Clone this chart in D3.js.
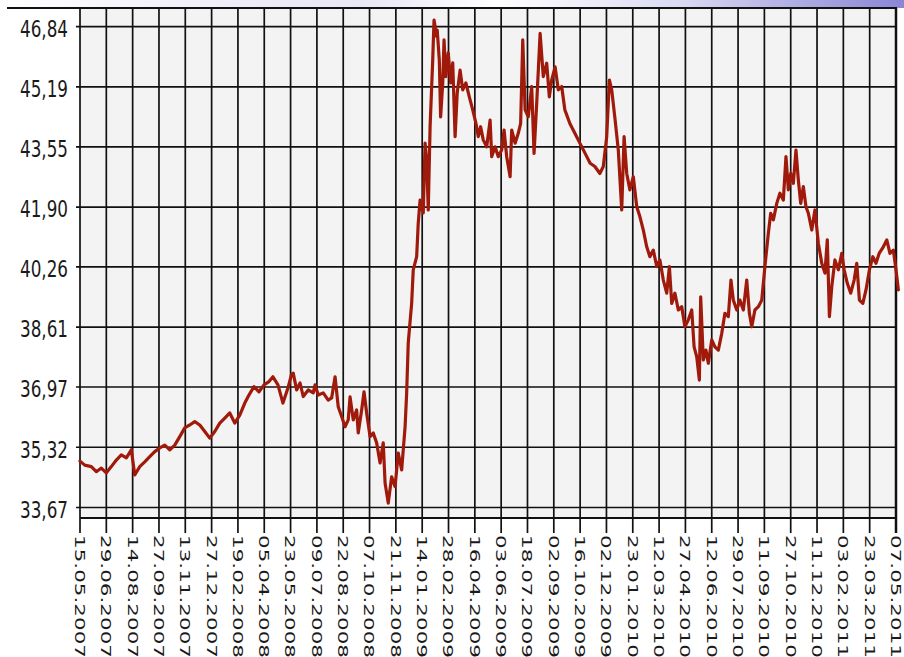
<!DOCTYPE html>
<html><head><meta charset="utf-8">
<script src="https://cdn.jsdelivr.net/npm/d3@7"></script>
<style>html,body{margin:0;padding:0;background:#fff;overflow:hidden}</style>
</head><body>
<script>
// ---- data ----
const dateLabels = ["15.05.2007","29.06.2007","14.08.2007","27.09.2007","13.11.2007","27.12.2007","19.02.2008","05.04.2008","23.05.2008","09.07.2008","22.08.2008","07.10.2008","21.11.2008","14.01.2009","28.02.2009","16.04.2009","03.06.2009","18.07.2009","02.09.2009","16.10.2009","02.12.2009","23.01.2010","12.03.2010","27.04.2010","12.06.2010","29.07.2010","11.09.2010","27.10.2010","11.12.2010","03.02.2011","23.03.2011","07.05.2011"];
const yTicks = [33.67,35.32,36.97,38.61,40.26,41.90,43.55,45.19,46.84];
const yTickLabels = ["33,67","35,32","36,97","38,61","40,26","41,90","43,55","45,19","46,84"];
// position along the date axis (in label-interval units)
const pos = [0,0.18,0.43,0.62,0.81,1.00,1.19,1.38,1.57,1.76,
1.95,2.08,2.27,2.46,2.65,2.84,3.03,3.22,3.41,3.60,
3.79,3.98,4.17,4.36,4.55,4.74,4.93,5.12,5.31,5.50,
5.69,5.88,6.07,6.26,6.42,6.61,6.80,6.99,7.18,7.33,
7.52,7.71,7.90,8.03,
8.10,8.23,8.36,8.48,8.67,8.86,
8.93,9.05,9.24,9.43,9.56,9.69,9.81,9.94,10.07,10.19,
10.26,10.38,10.51,10.57,10.70,10.79,10.89,11.02,11.14,11.27,
11.40,11.52,11.59,11.71,11.84,11.97,12.09,12.22,12.35,12.41,
12.47,12.60,12.66,12.79,12.85,12.92,13.04,13.11,13.17,13.23,
13.30,13.40,13.45,13.55,13.57,13.65,13.70,13.78,13.83,13.90,
13.99,14.08,14.16,14.25,14.33,14.44,14.54,14.66,14.79,14.92,
15.04,15.13,15.22,15.32,15.45,15.58,15.64,15.77,15.89,16.02,
16.11,16.21,16.34,16.40,16.53,16.65,16.74,16.82,16.91,17.03,
17.16,17.25,17.35,17.48,17.60,17.73,17.83,17.92,18.05,18.17,
18.30,18.42,18.61,18.80,18.99,19.19,19.38,19.56,19.75,19.88,
20.01,20.11,20.20,20.33,20.45,20.58,20.67,20.77,20.89,21.02,
21.15,21.27,21.40,21.53,21.65,21.78,21.91,22.03,22.16,22.29,
22.39,22.48,22.60,22.73,22.86,22.98,23.11,23.24,23.33,23.43,
23.53,23.58,23.68,23.78,23.87,24.00,24.12,24.25,24.38,24.50,
24.63,24.73,24.82,24.95,25.07,25.20,25.33,25.43,25.52,25.64,
25.77,25.90,26.02,26.15,26.24,26.34,26.47,26.59,26.72,26.82,
26.91,27.00,27.10,27.20,27.29,27.38,27.48,27.58,27.67,27.80,
27.92,28.05,28.18,28.30,28.39,28.47,28.56,28.68,28.81,28.94,
29.03,29.15,29.28,29.41,29.51,29.61,29.74,29.86,29.99,30.12,
30.24,30.36,30.52,30.65,30.77,30.90,31.00,31.09];
const rate = [34.94,34.83,34.79,34.65,34.75,34.62,34.79,34.97,35.11,35.03,
35.25,34.56,34.79,34.92,35.06,35.20,35.30,35.38,35.25,35.38,
35.61,35.85,35.93,36.02,35.93,35.75,35.57,35.75,35.98,36.12,
36.26,35.98,36.20,36.53,36.75,36.98,36.84,37.03,37.12,37.25,
37.03,36.53,36.94,37.30,
37.35,36.89,37.08,36.71,36.89,36.81,
37.03,36.75,36.81,36.61,36.67,37.25,36.43,36.16,35.88,36.07,
36.70,36.07,36.34,35.71,36.34,36.84,36.26,35.61,35.71,35.44,
34.89,35.44,34.34,33.79,34.51,34.24,35.16,34.70,35.88,36.81,
38.18,39.27,40.18,40.54,41.46,42.09,41.74,43.65,43.19,41.82,
44.10,45.93,47.02,46.57,46.75,45.93,44.37,45.30,46.48,45.47,
46.12,45.30,45.85,43.83,45.02,45.65,45.11,45.30,44.92,44.56,
44.20,43.83,44.10,43.74,43.55,44.28,43.28,43.55,43.28,43.46,
44.01,43.28,42.73,44.01,43.65,43.92,44.19,46.48,44.56,44.37,
45.20,43.37,44.74,46.66,45.47,45.84,44.92,45.38,45.74,45.11,
45.20,44.56,44.19,43.92,43.65,43.37,43.10,43.01,42.82,43.01,
43.83,45.38,45.11,44.28,43.46,41.82,43.83,42.82,42.37,42.73,
41.91,41.64,41.27,40.81,40.54,40.72,40.27,40.45,39.90,39.54,
40.27,39.26,39.54,39.08,39.17,38.62,38.81,39.08,38.07,37.80,
37.16,39.44,37.71,37.98,37.62,38.26,38.07,37.98,38.44,38.99,
38.90,39.90,39.35,39.08,39.35,39.08,39.90,38.99,38.62,39.08,
39.17,39.35,40.27,41.18,41.73,41.55,42.00,42.28,42.09,43.28,
42.37,42.82,42.55,43.46,42.64,42.00,42.46,41.91,41.73,41.27,
41.82,40.91,40.36,40.09,41.00,38.90,39.72,40.45,40.18,40.63,
40.18,39.81,39.54,39.90,40.36,39.35,39.26,39.63,40.18,40.54,
40.36,40.63,40.81,41.00,40.63,40.72,40.18,39.63];
const yDomain = [33.382, 47.352];

// ---- chart ----
const W = 904, H = 657;
const L = 80, R = 896, T = 8, B = 518;
const svg = d3.select("body").append("svg").attr("width", W).attr("height", H);

const defs = svg.append("defs");
const gr = defs.append("linearGradient").attr("id","topg").attr("x1","0").attr("x2","1").attr("y1","0").attr("y2","0");
[[0,"#ffffff"],[0.2,"#f2f0fa"],[0.4,"#e9e6f6"],[0.55,"#ffffff"],[0.75,"#dcdaf3"],[0.9,"#a9a6e0"],[1,"#8a86d6"]]
  .forEach(([o,c]) => gr.append("stop").attr("offset", o).attr("stop-color", c));
svg.append("rect").attr("x",0).attr("y",0).attr("width",W).attr("height",T).attr("fill","url(#topg)");

const x = d3.scaleLinear().domain([0, dateLabels.length - 1]).range([L, R]);
const y = d3.scaleLinear().domain(yDomain).range([B, T]);

svg.append("rect").attr("x", L).attr("y", T).attr("width", R - L).attr("height", B - T).attr("fill", "#f3f3f3");

const grid = svg.append("g").attr("stroke", "#111").attr("stroke-width", 1.7);
// horizontal grid + tick marks
grid.selectAll("line.h").data(yTicks).join("line").attr("class","h")
  .attr("x1", L - 4).attr("x2", R).attr("y1", d => y(d)).attr("y2", d => y(d));
// vertical grid + tick marks
grid.selectAll("line.v").data(dateLabels).join("line").attr("class","v")
  .attr("x1", (d,i) => x(i)).attr("x2", (d,i) => x(i)).attr("y1", T).attr("y2", B + 15);
// borders
grid.append("line").attr("x1", 7).attr("x2", R + 1).attr("y1", T).attr("y2", T).attr("stroke-width", 2);
grid.append("line").attr("x1", L).attr("x2", R).attr("y1", B).attr("y2", B).attr("stroke-width", 2);
grid.append("line").attr("x1", R).attr("x2", R).attr("y1", T).attr("y2", B + 15).attr("stroke-width", 2.5);

// y labels
const yl = svg.append("g").attr("font-family", "DejaVu Sans, Verdana, sans-serif").attr("font-size", 23).attr("fill", "#1a1a1a");
yl.selectAll("g").data(yTicks).join("g")
  .attr("transform", d => `translate(68,${y(d)}) scale(0.73,1)`)
  .append("text").attr("text-anchor", "end").attr("dy", "0.45em")
  .text((d,i) => yTickLabels[i]);

// x labels
const xl = svg.append("g").attr("font-family", "DejaVu Sans, Verdana, sans-serif").attr("font-size", 21.5).attr("fill", "#1a1a1a");
xl.selectAll("g").data(dateLabels).join("g")
  .attr("transform", (d,i) => `translate(${x(i)},535) rotate(90) scale(1,0.66)`)
  .append("text").attr("text-anchor", "start").attr("dy", "0.36em")
  .text(d => d);

// line
const pts = d3.zip(pos, rate);
svg.append("path").datum(pts)
  .attr("fill", "none").attr("stroke", "#a01a0c").attr("stroke-width", 3.2)
  .attr("stroke-linejoin", "round").attr("stroke-linecap", "round")
  .attr("d", d3.line().x(d => x(d[0])).y(d => y(d[1])));
</script>
</body></html>
